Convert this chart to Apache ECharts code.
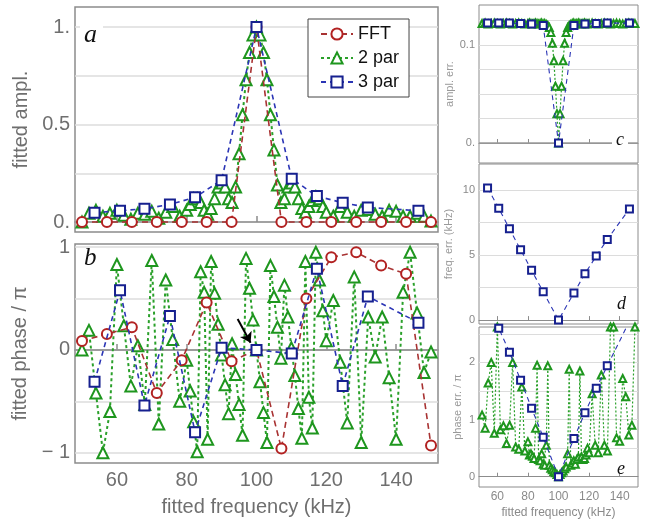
<!DOCTYPE html>
<html>
<head>
<meta charset="utf-8">
<script src="https://cdn.jsdelivr.net/npm/echarts@6/dist/echarts.min.js"></script>
<style>
  html, body { margin: 0; padding: 0; background: #fff; }
  #chart { width: 648px; height: 525px; }
</style>
</head>
<body>
<div id="chart"></div>
<script>
// FFT bins (kHz)
const fftFreq = [50, 57.14, 64.29, 71.43, 78.57, 85.71, 92.86, 100, 107.14, 114.29, 121.43, 128.57, 135.71, 142.86, 150];
const fftAmpl = [0, 0, 0, 0, 0, 0, 0, 1, 0, 0, 0, 0, 0, 0, 0];
const fftPhase = [0.087, 0.155, 0.22, -0.42, -0.1, 0.46, -0.11, 0, -0.96, 0.5, 0.9, 0.95, 0.82, 0.74, -0.93];

// 2 par fit
const par2Freq = [50, 52, 54, 56, 58, 60, 62, 64, 66, 68, 70, 72, 74, 76, 78,
  80, 81, 82, 83, 84, 85, 86, 87, 88, 89, 90, 91, 92, 93, 94, 95, 96, 97, 98, 99, 100,
  101, 102, 103, 104, 105, 106, 107, 108, 109, 110, 111, 112, 113, 114, 115, 116, 117, 118, 119, 120,
  122, 124, 126, 128, 130, 132, 134, 136, 138, 140, 142, 144, 146, 148, 150];
const par2Ampl = [0.0, 0.045, 0.06, 0.03, 0.045, 0.06, 0.035, 0.015, 0.045, 0.04, 0.055, 0.02, 0.05, 0.08, 0.03,
  0.06, 0.09, 0.12, 0.12, 0.10, 0.06, 0.04, 0.07, 0.12, 0.18, 0.20, 0.18, 0.12, 0.10, 0.18, 0.35, 0.55, 0.73, 0.87, 0.96, 1.0,
  0.96, 0.87, 0.73, 0.55, 0.37, 0.19, 0.10, 0.12, 0.18, 0.20, 0.18, 0.12, 0.07, 0.05, 0.08, 0.11, 0.13, 0.12, 0.08, 0.05,
  0.03, 0.08, 0.05, 0.03, 0.06, 0.065, 0.04, 0.03, 0.06, 0.055, 0.03, 0.03, 0.045, 0.03, 0.005];
const par2Phase = [0.0, 0.19, -0.42, -1.0, -0.6, 0.83, 0.235, -0.35, 0.04, -0.53, 0.87, -0.72, 0.68, 0.1, -0.5,
  -0.1, -0.4, -0.7, -0.99, 0.76, 0.56, -0.87, 0.86, 0.55, 0.25, -0.05, -0.34, -0.62, 0.06, -0.24, -0.53, -0.83, 0.89, 0.6, 0.29, 0.0,
  -0.31, -0.61, -0.9, 0.82, 0.52, 0.22, -0.08, 0.63, 0.32, 0.02, -0.25, -0.57, -0.86, 0.86, -0.46, -0.76, 0.95, 0.68, 0.38, 0.09,
  0.48, -0.12, -0.71, 0.71, -0.9, 0.32, -0.07, 0.32, -0.27, -0.87, 0.56, 0.95, 0.36, -0.22, -0.02];
const par2AmplErr = [0.122, 0.1225, 0.1215, 0.122, 0.1225, 0.122, 0.1215, 0.122, 0.1225, 0.122, 0.1215, 0.122, 0.1225, 0.122, 0.1215,
  0.122, 0.1225, 0.122, 0.1215, 0.122, 0.1225, 0.122, 0.1215, 0.122, 0.1225, 0.1215, 0.122, 0.121, 0.12, 0.118, 0.113, 0.102, 0.084, 0.058, 0.03, 0,
  0.03, 0.058, 0.084, 0.102, 0.113, 0.118, 0.12, 0.121, 0.122, 0.1225, 0.1215, 0.122, 0.1225, 0.122, 0.1215, 0.122, 0.1225, 0.122, 0.1215, 0.122,
  0.1225, 0.122, 0.1215, 0.122, 0.1225, 0.122, 0.1215, 0.122, 0.1225, 0.122, 0.1215, 0.122, 0.1225, 0.122, 0.122];
const par2PhaseErr = [1.08, 0.85, 1.64, 2.0, 0.76, 2.62, 0.82, 0.89, 0.58, 0.9, 2.0, 0.52, 0.48, 1.57, 0.45,
  0.61, 0.38, 0.4, 0.36, 0.32, 0.85, 1.95, 0.3, 0.28, 0.4, 0.22, 0.2, 0.55, 1.94, 0.2, 0.15, 0.12, 0.09, 0.07, 0.04, 0,
  0.04, 0.07, 0.1, 0.14, 0.17, 0.4, 1.88, 0.2, 0.24, 0.28, 0.22, 0.3, 0.34, 1.85, 0.35, 0.3, 0.32, 0.38, 0.5, 0.42,
  1.45, 0.55, 0.42, 1.78, 0.55, 0.45, 2.62, 2.62, 0.68, 0.62, 1.72, 1.4, 0.73, 0.9, 2.62];

// 3 par fit
const par3Freq = [53.6, 60.9, 67.9, 75.2, 82.4, 90.0, 100.0, 110.1, 117.3, 124.7, 131.9, 146.4];
const par3Ampl = [0.048, 0.058, 0.068, 0.09, 0.127, 0.215, 1.0, 0.222, 0.133, 0.099, 0.075, 0.058];
const par3Phase = [-0.31, 0.58, -0.54, 0.33, -0.8, 0.02, 0.0, -0.035, 0.79, -0.35, 0.52, 0.265];
const par3AmplErr = [0.1225, 0.1225, 0.1225, 0.122, 0.1215, 0.12, 0, 0.12, 0.1215, 0.122, 0.1225, 0.1225];
const par3FreqErr = [10.16, 8.6, 7.02, 5.41, 3.83, 2.17, 0, 2.09, 3.57, 4.92, 6.2, 8.55];
const par3PhaseErr = [3.15, 2.6, 2.18, 1.69, 1.2, 0.69, 0, 0.67, 1.12, 1.55, 1.94, 2.72];

const freqTicks = [60, 80, 100, 120, 140];

const FONT = '"Liberation Sans", Arial, sans-serif';
const RED = '#b22222', GREEN = '#1e961e', BLUE = '#16208f';

function pairs(xs, ys) {
  return xs.map((x, i) => [x, ys[i]]);
}

const chart = echarts.init(document.getElementById('chart'));

function xAxis(gridIndex, big, showLabel, name) {
  return {
    type: 'value', gridIndex, min: 48, max: 152,
    axisLine: { show: true, lineStyle: { color: '#8c8c8c', width: big ? 1.5 : 1 } },
    axisTick: { show: true, inside: true, length: big ? 6 : 4, customValues: freqTicks,
      lineStyle: { color: '#8c8c8c', width: big ? 1.5 : 1 } },
    axisLabel: { show: showLabel, customValues: freqTicks, margin: big ? 7 : 4,
      fontSize: big ? 20 : 12, color: big ? '#6f6f6f' : '#8a8a8a', fontFamily: FONT },
    splitLine: { show: false },
    name: name || '', nameLocation: 'middle', nameGap: big ? 34 : 20,
    nameTextStyle: { fontSize: big ? 20 : 12, color: big ? '#6f6f6f' : '#8a8a8a', fontFamily: FONT }
  };
}

function yAxis(gridIndex, big, min, max, grid, labels, fmt, name, nameGap) {
  return {
    type: 'value', gridIndex, min, max,
    axisLine: { show: false },
    axisTick: { show: false, customValues: grid },
    axisLabel: { customValues: labels, formatter: fmt, margin: big ? 5 : 4,
      fontSize: big ? 20 : 11, color: big ? '#6f6f6f' : '#8a8a8a', fontFamily: FONT },
    splitLine: { show: true, lineStyle: { color: '#dcdcdc', width: big ? 1.5 : 1.2 } },
    name, nameLocation: 'middle', nameGap, nameRotate: 90,
    nameTextStyle: { fontSize: big ? 20 : 11, color: big ? '#6f6f6f' : '#9a9a9a', fontFamily: FONT }
  };
}

function lineSeries(name, xi, data, opt) {
  return Object.assign({
    name, type: 'line', xAxisIndex: xi, yAxisIndex: xi, data,
    animation: false
  }, opt);
}

function fftStyle(big) {
  return {
    symbol: 'emptyCircle', symbolSize: big ? 10 : 6, z: 3,
    itemStyle: { color: RED, borderWidth: 1.6 },
    lineStyle: { color: '#a83232', width: 1.6, type: [6, 4] }
  };
}
function par2Style(big) {
  return {
    symbol: 'emptyTriangle', symbolSize: big ? 11 : 7, z: 2,
    itemStyle: { color: GREEN, borderWidth: big ? 1.6 : 1.2 },
    lineStyle: { color: '#2aa02a', width: big ? 2 : 1.2, type: big ? [3, 3] : [2, 2] }
  };
}
function par3Style(big) {
  return {
    symbol: 'emptyRect', symbolSize: big ? 10 : 7, z: 4,
    itemStyle: { color: BLUE, borderWidth: big ? 1.6 : 1.3 },
    lineStyle: { color: '#2b35b5', width: big ? 1.6 : 1.1, type: [5, 4] }
  };
}

const zeroLine = {
  silent: true, symbol: 'none', z: 1, label: { show: false },
  lineStyle: { color: '#9a9a9a', width: 1.5, type: 'solid' },
  data: [{ yAxis: 0 }]
};

const option = {
  animation: false,
  grid: [
    { left: 75, top: 7, width: 363, height: 225 },
    { left: 75, top: 244, width: 363, height: 219 },
    { left: 479, top: 5, width: 159, height: 158 },
    { left: 479, top: 164, width: 159, height: 160 },
    { left: 479, top: 327, width: 159, height: 160 }
  ].map((g, i) => Object.assign({ show: true, borderColor: '#8c8c8c', borderWidth: i < 2 ? 1.5 : 1 }, g)),
  xAxis: [
    xAxis(0, true, false),
    xAxis(1, true, true, 'fitted frequency (kHz)'),
    xAxis(2, false, false),
    xAxis(3, false, false),
    xAxis(4, false, true, 'fitted frequency (kHz)')
  ],
  yAxis: [
    yAxis(0, true, -0.051, 1.103, [0, 0.25, 0.5, 0.75, 1], [0, 0.5, 1],
      v => (v === 0 ? '0.' : v === 1 ? '1.' : '0.5'), 'fitted ampl.', 40),
    yAxis(1, true, -1.1, 1.03, [-1, -0.5, 0, 0.5, 1], [-1, 0, 1],
      v => (v < 0 ? '\u2212 1' : String(v)), 'fitted phase / \u03c0', 40),
    yAxis(2, false, -0.0204, 0.141, [0, 0.025, 0.05, 0.075, 0.1, 0.125], [0, 0.1],
      v => (v === 0 ? '0.' : '0.1'), 'ampl. err.', 23),
    yAxis(3, false, -0.3, 12, [0, 2.5, 5, 7.5, 10], [0, 5, 10],
      v => String(v), 'freq. err. (kHz)', 25),
    yAxis(4, false, -0.18, 2.62, [0, 0.5, 1, 1.5, 2, 2.5], [0, 1, 2],
      v => String(v), 'phase err. / \u03c0', 16)
  ],
  legend: {
    data: ['FFT', '2 par', '3 par'],
    orient: 'vertical', left: 308, top: 19,
    backgroundColor: '#fff', borderColor: '#444', borderWidth: 1,
    padding: [6, 10, 6, 12], itemGap: 6, itemWidth: 32, itemHeight: 14,
    selectedMode: false,
    textStyle: { fontSize: 18, color: '#111', fontFamily: FONT }
  },
  series: [
    // a
    lineSeries('2 par', 0, pairs(par2Freq, par2Ampl), par2Style(true)),
    lineSeries('FFT', 0, pairs(fftFreq, fftAmpl), fftStyle(true)),
    lineSeries('3 par', 0, pairs(par3Freq, par3Ampl), par3Style(true)),
    // b
    lineSeries('2 par', 1, pairs(par2Freq, par2Phase), Object.assign(par2Style(true), { markLine: zeroLine })),
    lineSeries('FFT', 1, pairs(fftFreq, fftPhase), fftStyle(true)),
    lineSeries('3 par', 1, pairs(par3Freq, par3Phase), Object.assign(par3Style(true), {
      markLine: {
        silent: true, symbol: ['none', 'arrow'], symbolSize: 10, z: 10,
        label: { show: false },
        lineStyle: { color: '#000', width: 2, type: 'solid' },
        data: [[{ coord: [94.6, 0.30] }, { coord: [98.3, 0.07] }]]
      }
    })),
    // c
    lineSeries('2 par', 2, pairs(par2Freq, par2AmplErr), Object.assign(par2Style(false), { markLine: zeroLine })),
    lineSeries('3 par', 2, pairs(par3Freq, par3AmplErr), par3Style(false)),
    // d
    lineSeries('3 par', 3, pairs(par3Freq, par3FreqErr), par3Style(false)),
    // e
    lineSeries('2 par', 4, pairs(par2Freq, par2PhaseErr), par2Style(false)),
    lineSeries('3 par', 4, pairs(par3Freq, par3PhaseErr), par3Style(false))
  ],
  graphic: [
    { type: 'text', left: 80, top: 22, z: 50,
      style: { text: 'a', font: 'italic 26px "Liberation Serif", serif', fill: '#111',
        backgroundColor: '#fff', padding: [0, 6, 0, 4] } },
    { type: 'text', left: 84, top: 246, z: 50,
      style: { text: 'b', font: 'italic 25px "Liberation Serif", serif', fill: '#111' } },
    { type: 'text', left: 612, top: 131, z: 50,
      style: { text: 'c', font: 'italic 18px "Liberation Serif", serif', fill: '#111',
        backgroundColor: '#fff', padding: [0, 4, 0, 4] } },
    { type: 'text', left: 617, top: 295, z: 50,
      style: { text: 'd', font: 'italic 18px "Liberation Serif", serif', fill: '#111' } },
    { type: 'text', left: 617, top: 460, z: 50,
      style: { text: 'e', font: 'italic 18px "Liberation Serif", serif', fill: '#111' } }
  ]
};

chart.setOption(option);
</script>
</body>
</html>
